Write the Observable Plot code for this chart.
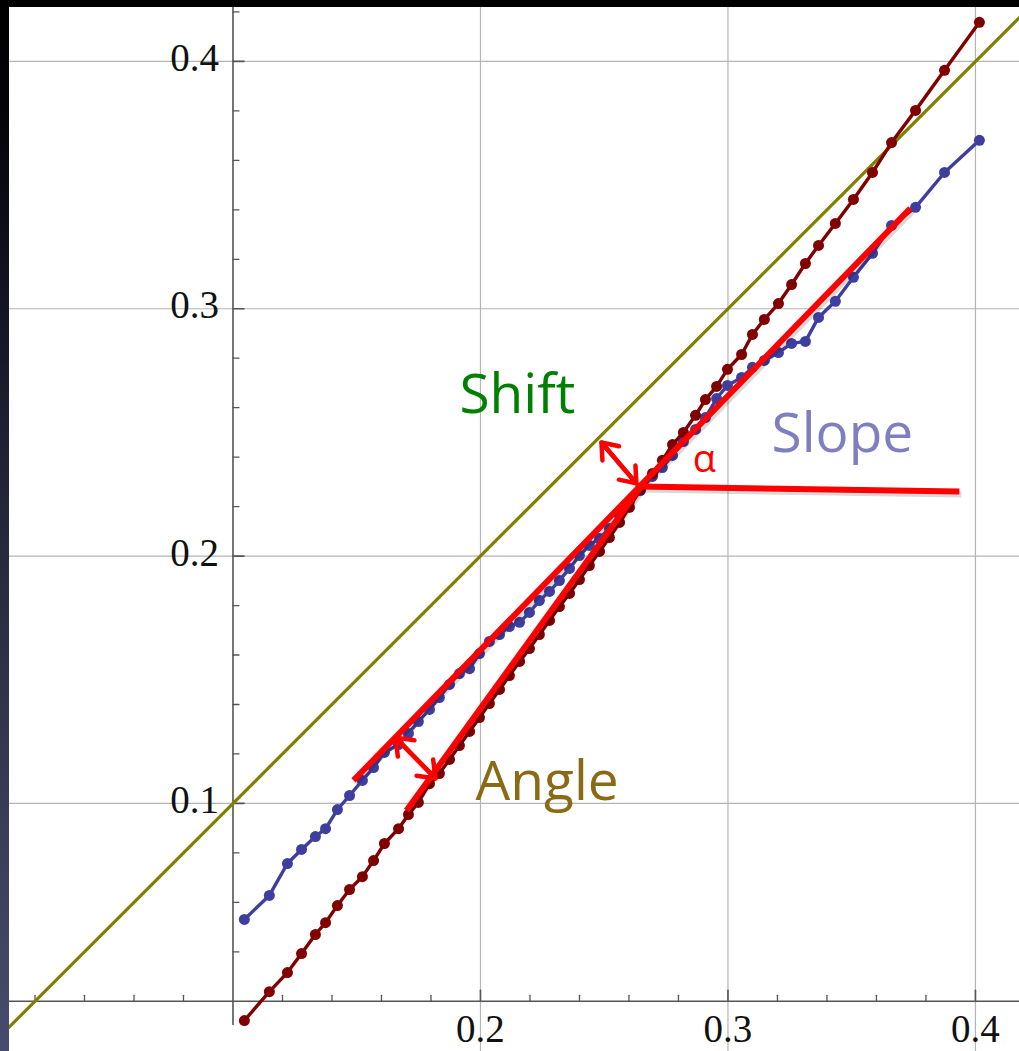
<!DOCTYPE html>
<html><head><meta charset="utf-8">
<script src="https://cdn.jsdelivr.net/npm/d3@7"></script>
<script src="https://cdn.jsdelivr.net/npm/@observablehq/plot@0.6"></script>
<style>
html,body{margin:0;padding:0;background:#000;}
#frame{position:relative;width:1019px;height:1051px;overflow:hidden;
  background:linear-gradient(to bottom,#000 0%,#05050a 12%,#1c1d2e 38%,#363852 72%,#484b6c 100%);}
#chart{position:absolute;left:9px;top:7px;width:1010px;height:1044px;background:#fff;overflow:hidden;}
#chart svg{display:block;}
</style></head><body><div id="frame"><div id="chart"></div></div>
<script>
// shared quantile positions (x) for both series
const xq = [0.1046,0.1147,0.1220,0.1277,0.1333,0.1374,0.1422,0.1471,0.1523,0.1568,
  0.1612,0.1669,0.1709,0.1749,0.1794,0.1834,0.1875,0.1915,0.1956,0.1996,
  0.2036,0.2077,0.2117,0.2158,0.2198,0.2238,0.2279,0.2319,0.2360,0.2400,
  0.2440,0.2481,0.2521,0.2562,0.2602,0.2646,0.2695,0.2735,0.2776,0.2820,
  0.2869,0.2909,0.2954,0.2998,0.3055,0.3099,0.3147,0.3204,0.3257,0.3313,
  0.3366,0.3434,0.3507,0.3584,0.3661,0.3758,0.3875,0.4016];
const maroonY = [0.0122,0.0239,0.0316,0.0393,0.0470,0.0518,0.0587,0.0652,0.0704,0.0769,
  0.0838,0.0898,0.0955,0.1004,0.1080,0.1121,0.1178,0.1234,0.1291,0.1347,
  0.1404,0.1461,0.1517,0.1574,0.1626,0.1683,0.1740,0.1796,0.1849,0.1905,
  0.1962,0.2019,0.2075,0.2136,0.2197,0.2269,0.2334,0.2387,0.2451,0.2500,
  0.2569,0.2633,0.2686,0.2755,0.2815,0.2896,0.2957,0.3021,0.3098,0.3183,
  0.3256,0.3345,0.3442,0.3551,0.3672,0.3802,0.3964,0.4158];
const blueY = [0.0531,0.0628,0.0757,0.0814,0.0866,0.0898,0.0975,0.1032,0.1093,0.1145,
  0.1206,0.1238,0.1283,0.1331,0.1380,0.1428,0.1481,0.1525,0.1545,0.1606,
  0.1655,0.1683,0.1715,0.1732,0.1772,0.1820,0.1857,0.1901,0.1950,0.2002,
  0.2043,0.2071,0.2112,0.2164,0.2221,0.2265,0.2322,0.2358,0.2407,0.2463,
  0.2512,0.2560,0.2637,0.2690,0.2722,0.2763,0.2791,0.2823,0.2860,0.2868,
  0.2965,0.3030,0.3127,0.3224,0.3337,0.3410,0.3551,0.3681];

// reference line y = x
const diagX = [0, 0.45];

// axes / ticks
const axisCrossX = 0.1, axisCrossY = 0.02;
const xMajor = [0.2, 0.3, 0.4];
const yMajor = [0.1, 0.2, 0.3, 0.4];
const xMinor = [0.02,0.04,0.06,0.08,0.12,0.14,0.16,0.18,0.22,0.24,0.26,0.28,0.32,0.34,0.36,0.38];
const yMinor = [0.04,0.06,0.08,0.12,0.14,0.16,0.18,0.22,0.24,0.26,0.28,0.32,0.34,0.36,0.38,0.42];
const xTickLabels = ["0.2", "0.3", "0.4"];
const yTickLabels = ["0.1", "0.2", "0.3", "0.4"];

// annotation segments (fit lines and the alpha reference)
const segX1 = [0.1487, 0.1701, 0.2638];
const segY1 = [0.1093, 0.0971, 0.2281];
const segX2 = [0.3737, 0.2646, 0.3935];
const segY2 = [0.3406, 0.2277, 0.2261];
// double arrows (Shift, Angle)
const arrX1 = [0.2489, 0.1657];
const arrY1 = [0.2459, 0.1266];
const arrX2 = [0.2630, 0.1818];
const arrY2 = [0.2294, 0.1101];
// labels
const labelText = ["Shift", "Slope", "Angle"];
const labelX = [0.1915, 0.3176, 0.1980];
const labelY = [0.2577, 0.2419, 0.1012];
const alphaText = ["α"];
const alphaX = [0.2905];
const alphaY = [0.2342];

const labelColors = ["#008000", "#7f7fbf", "#8a6a14"];
const tickShape = {draw(ctx, l) { ctx.moveTo(0, 0); ctx.lineTo(0, -l); }};
const axisColor = "#555";
const gridColor = "#b4b4b4";
const idx = n => d3.range(n);

const chart = Plot.plot({
  width: 1010, height: 1044,
  margin: 0,
  x: {domain: [0.0097, 0.4178], axis: null},
  y: {domain: [-0.0003, 0.4218], axis: null},
  style: {background: "#fff"},
  marks: [
    Plot.ruleX(xMajor, {stroke: gridColor, strokeWidth: 1.2}),
    Plot.ruleY(yMajor, {stroke: gridColor, strokeWidth: 1.2}),
    Plot.ruleY([axisCrossY], {stroke: axisColor, strokeWidth: 1.6}),
    Plot.ruleX([axisCrossX], {y1: 0.0102, y2: 0.4218, stroke: axisColor, strokeWidth: 1.6}),
    Plot.vector(xMinor, {x: d => d, y: () => axisCrossY, length: 6, rotate: 0, anchor: "start", shape: tickShape, stroke: axisColor, strokeWidth: 1.3}),
    Plot.vector(xMajor, {x: d => d, y: () => axisCrossY, length: 11, rotate: 0, anchor: "start", shape: tickShape, stroke: axisColor, strokeWidth: 1.6}),
    Plot.vector(yMinor, {x: () => axisCrossX, y: d => d, length: 6, rotate: 90, anchor: "start", shape: tickShape, stroke: axisColor, strokeWidth: 1.3}),
    Plot.vector(yMajor, {x: () => axisCrossX, y: d => d, length: 11, rotate: 90, anchor: "start", shape: tickShape, stroke: axisColor, strokeWidth: 1.6}),
    Plot.text(idx(xMajor.length), {x: i => xMajor[i], y: () => axisCrossY, text: i => xTickLabels[i], lineAnchor: "bottom", dy: 41, textAnchor: "middle", fontFamily: "Liberation Serif", fontSize: 39, fill: "#111"}),
    Plot.text(idx(yMajor.length), {x: () => axisCrossX, y: i => yMajor[i], text: i => yTickLabels[i], lineAnchor: "middle", dx: -14, dy: -3, textAnchor: "end", fontFamily: "Liberation Serif", fontSize: 39, fill: "#111"}),
    Plot.line(diagX, {x: d => d, y: d => d, stroke: "#808000", strokeWidth: 3.2, clip: true}),
    Plot.line(idx(xq.length), {x: i => xq[i], y: i => blueY[i], stroke: "#3e3e9e", strokeWidth: 3.4}),
    Plot.dot(idx(xq.length), {x: i => xq[i], y: i => blueY[i], r: 5.5, fill: "#3e3e9e"}),
    Plot.line(idx(xq.length), {x: i => xq[i], y: i => maroonY[i], stroke: "#800000", strokeWidth: 3.4}),
    Plot.dot(idx(xq.length), {x: i => xq[i], y: i => maroonY[i], r: 5.5, fill: "#800000"}),
    Plot.link(idx(segX1.length), {x1: i => segX1[i], y1: i => segY1[i], x2: i => segX2[i], y2: i => segY2[i], stroke: "#000", strokeOpacity: 0.15, strokeWidth: 6, dx: 2, dy: 3}),
    Plot.link(idx(segX1.length), {x1: i => segX1[i], y1: i => segY1[i], x2: i => segX2[i], y2: i => segY2[i], stroke: "#ff0000", strokeWidth: 6}),
    Plot.arrow(idx(arrX1.length), {x1: i => arrX1[i], y1: i => arrY1[i], x2: i => arrX2[i], y2: i => arrY2[i], stroke: "#ff0000", strokeWidth: 4.5, headLength: 16, headAngle: 75}),
    Plot.arrow(idx(arrX1.length), {x1: i => arrX2[i], y1: i => arrY2[i], x2: i => arrX1[i], y2: i => arrY1[i], stroke: "#ff0000", strokeWidth: 4.5, headLength: 16, headAngle: 75}),
    Plot.text(idx(labelText.length), {x: i => labelX[i], y: i => labelY[i], text: i => labelText[i], fill: i => labelColors[i], textAnchor: "start", lineAnchor: "bottom", fontFamily: "Open Sans", fontSize: 55}),
    Plot.text(idx(alphaText.length), {x: i => alphaX[i], y: i => alphaY[i], text: i => alphaText[i], fill: "#ff0000", textAnchor: "middle", lineAnchor: "bottom", fontFamily: "Open Sans", fontSize: 38})
  ]
});
document.getElementById("chart").appendChild(chart);
</script>
</body></html>
